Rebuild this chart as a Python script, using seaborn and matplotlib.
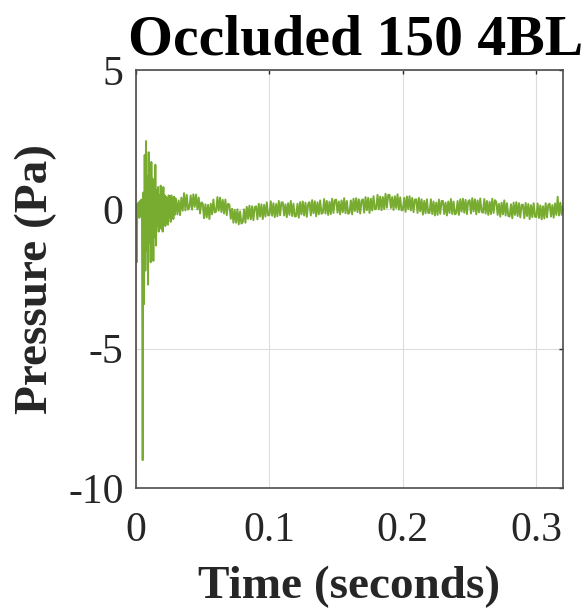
import numpy as np
import pandas as pd
import matplotlib
matplotlib.use("Agg")
import matplotlib.pyplot as plt
import seaborn as sns

# ===== Data =====
# ring-down right after the occlusion, one sample every 0.5 ms from t = 0
dt_early = 0.0005
p_early = [
    0.0, -1.9, 0.2, -0.2, 0.25, -0.3, 0.3, -0.25, 0.35, -0.4,
    -9.0, 0.6, -3.4, 1.95, -2.2, 2.45, -1.5, 1.2, -2.7, 2.05,
    -1.2, 1.4, -1.9, 1.7, -0.9, 1.1, -1.85, 0.9, -1.0, 1.6,
    -1.3, 0.7, -0.6, 0.8, -0.8, 0.5, -0.5, 0.85, -0.7, 0.6,
    -0.8, 0.8, -0.4, 0.5, -0.6, 0.45, -0.5, 0.4, -0.55, 0.5,
    -0.3, 0.35, -0.45, 0.5, -0.3, 0.4, -0.35, 0.45, -0.2, 0.4,
]

# settled part, one sample every 1 ms from t = 0.03 s
t_late_start = 0.03
dt_late = 0.001
p_late = [
    0.35, -0.18, 0.32, -0.21, 0.42, -0.05, 0.58, -0.04, 0.52, -0.01,
    0.06, 0.5, -0.01, 0.54, 0.09, 0.53, 0.0, 0.42, -0.15, 0.25,
    0.21, -0.32, 0.18, -0.29, 0.16, -0.35, 0.2, -0.18, 0.35, -0.11,
    -0.08, 0.44, -0.05, 0.42, -0.1, 0.34, -0.15, 0.35, -0.21, 0.2,
    0.17, -0.34, 0.02, -0.48, -0.02, -0.48, 0.0, -0.54, -0.08, -0.51,
    -0.46, 0.0, -0.48, 0.09, -0.34, 0.13, -0.36, 0.11, -0.39, 0.08,
    0.11, -0.36, 0.2, -0.26, 0.18, -0.35, 0.16, -0.26, 0.25, -0.22,
    -0.2, 0.29, -0.23, 0.22, -0.28, 0.19, -0.25, 0.3, -0.21, 0.25,
    0.25, -0.22, 0.18, -0.28, 0.22, -0.2, 0.3, -0.24, 0.2, -0.26,
    -0.24, 0.2, -0.3, 0.26, -0.18, 0.28, -0.22, 0.24, -0.27, 0.19,
    0.26, -0.22, 0.33, -0.14, 0.29, -0.25, 0.25, -0.18, 0.32, -0.16,
    -0.12, 0.37, -0.15, 0.3, -0.2, 0.27, -0.17, 0.38, -0.13, 0.33,
    0.35, -0.12, 0.28, -0.18, 0.32, -0.1, 0.4, -0.14, 0.3, -0.16,
    -0.12, 0.32, -0.18, 0.38, -0.06, 0.4, -0.1, 0.36, -0.15, 0.31,
    0.36, -0.12, 0.44, -0.03, 0.41, -0.13, 0.38, -0.04, 0.47, 0.0,
    0.02, 0.52, 0.0, 0.46, -0.03, 0.44, 0.01, 0.56, 0.06, 0.52,
    0.52, 0.05, 0.44, -0.02, 0.47, 0.05, 0.54, -0.01, 0.43, -0.04,
    -0.02, 0.41, -0.09, 0.46, 0.01, 0.47, -0.04, 0.41, -0.1, 0.35,
    0.36, -0.13, 0.41, -0.07, 0.36, -0.19, 0.3, -0.14, 0.36, -0.13,
    -0.13, 0.36, -0.17, 0.28, -0.22, 0.24, -0.2, 0.35, -0.16, 0.3,
    0.3, -0.17, 0.24, -0.22, 0.28, -0.13, 0.37, -0.17, 0.28, -0.18,
    -0.14, 0.3, -0.2, 0.36, -0.08, 0.38, -0.12, 0.34, -0.17, 0.29,
    0.33, -0.15, 0.4, -0.07, 0.36, -0.18, 0.32, -0.11, 0.39, -0.09,
    -0.12, 0.37, -0.15, 0.3, -0.2, 0.27, -0.17, 0.38, -0.13, 0.33,
    0.27, -0.2, 0.2, -0.26, 0.24, -0.18, 0.32, -0.22, 0.22, -0.24,
    -0.26, 0.18, -0.32, 0.24, -0.2, 0.26, -0.24, 0.22, -0.29, 0.17,
    0.16, -0.32, 0.23, -0.24, 0.19, -0.35, 0.15, -0.28, 0.22, -0.26,
    -0.28, 0.21, -0.31, 0.14, -0.36, 0.11, -0.33, 0.22, -0.29, 0.17,
    0.2, -0.26, 0.15, -0.3, 0.21, -0.2, 0.45, -0.22, 0.24, -0.2,
    0.15,
]

x_ticks = [0, 0.1, 0.2, 0.3]
x_tick_labels = ["0", "0.1", "0.2", "0.3"]
y_ticks = [-10, -5, 0, 5]
y_tick_labels = ["-10", "-5", "0", "5"]

title = "Occluded 150 4BL"
x_label = "Time (seconds)"
y_label = "Pressure (Pa)"

# ===== Build the frame =====
t_early = np.arange(len(p_early)) * dt_early
t_late = t_late_start + np.arange(len(p_late)) * dt_late
df = pd.DataFrame({
    "Time": np.concatenate([t_early, t_late]),
    "Pressure": np.array(p_early + p_late),
})

# ===== Plot =====
sns.set_style("white")
plt.rcParams["font.family"] = ["Liberation Serif", "DejaVu Serif"]
plt.rcParams["axes.unicode_minus"] = False

fig = plt.figure(figsize=(5.87, 6.11), dpi=100)
ax = fig.add_axes([136 / 587, 1 - 488 / 611, 427 / 587, 418 / 611])

sns.lineplot(data=df, x="Time", y="Pressure", ax=ax, color="#77AC30",
             linewidth=1.4, estimator=None, sort=False)

ax.set_xlim(0, 0.32)
ax.set_ylim(-10, 5)
ax.set_xticks(x_ticks)
ax.set_xticklabels(x_tick_labels)
ax.set_yticks(y_ticks)
ax.set_yticklabels(y_tick_labels)
ax.grid(True, color="#dcdcdc", linewidth=0.8)
ax.set_axisbelow(True)
ax.tick_params(direction="in", length=3, width=1, color="#262626",
               labelsize=30, labelcolor="#262626", top=True, right=True)
ax.tick_params(axis="x", pad=17)
ax.tick_params(axis="y", pad=9)
for side in ax.spines.values():
    side.set_color("#4d4d4d")
    side.set_linewidth(1.2)

ax.set_title(title, fontsize=41.5, fontweight="bold", pad=11, x=0.514,
             color="black")
ax.set_xlabel(x_label, fontsize=34, fontweight="bold", color="#262626", labelpad=11)
ax.set_ylabel(y_label, fontsize=34, fontweight="bold", color="#262626", labelpad=8)

fig.savefig("out.png", dpi=100)
